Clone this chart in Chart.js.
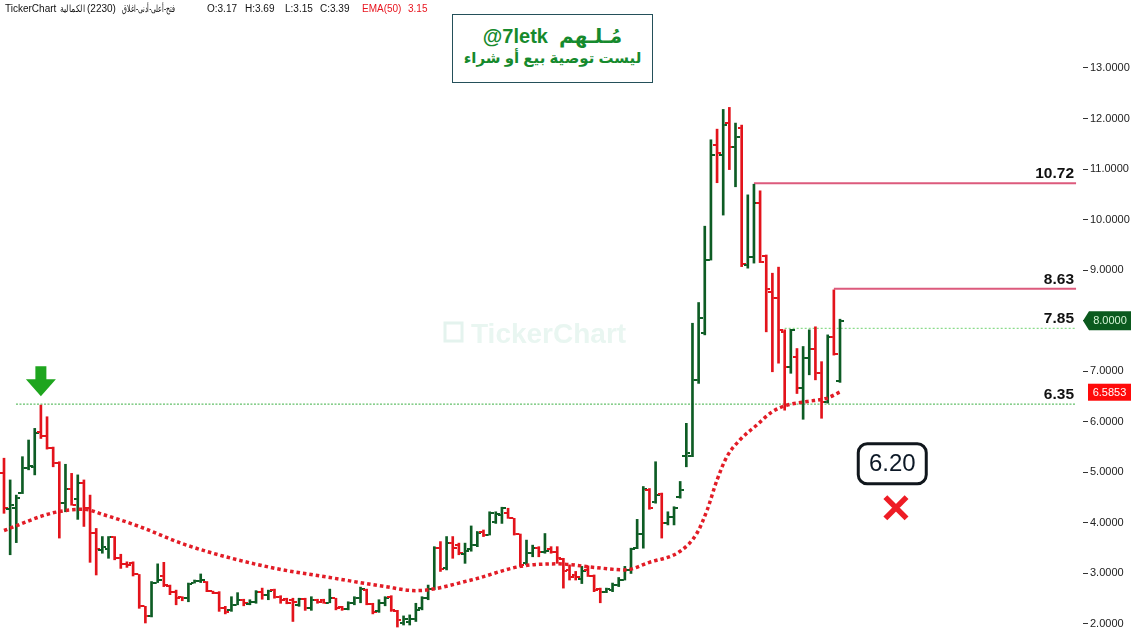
<!DOCTYPE html>
<html>
<head>
<meta charset="utf-8">
<script src="https://cdn.jsdelivr.net/npm/chart.js@4.4.1/dist/chart.umd.min.js"></script>
<style>
  html, body { margin: 0; padding: 0; background: #fff; }
  #wrap { position: relative; width: 1133px; height: 644px; overflow: hidden; }
  #box { position: absolute; left: 0; top: 0; width: 1133px; height: 644px; }
  .hdr { position: absolute; top: 3px; font: 10px "Liberation Sans", Arial, sans-serif; color: #111; white-space: nowrap; line-height: 12px; display: inline-block; transform-origin: 0 50%; }
  .red { color: #e8141e; }
  #title { position: absolute; left: 452px; top: 14px; width: 201px; height: 69px; box-sizing: border-box;
           border: 1px solid #24505a; background: #fff; color: #168a2d; font-family: "Liberation Sans", "DejaVu Sans", sans-serif; font-weight: bold; }
  #title div { position: absolute; left: 0; width: 100%; text-align: center; direction: rtl; white-space: nowrap; }
  #title bdi { unicode-bidi: isolate; direction: ltr; }
</style>
</head>
<body>
<div id="wrap">
  <div id="box"><canvas id="chart"></canvas></div>
  <span class="hdr" style="left:5px">TickerChart</span>
  <span class="hdr" style="left:60px" dir="rtl" data-w="25">الكمالية</span>
  <span class="hdr" style="left:87px">(2230)</span>
  <span class="hdr" style="left:122px" dir="rtl" data-w="53">فتح-أعلى-أدنى-اغلاق</span>
  <span class="hdr" style="left:207px">O:3.17</span>
  <span class="hdr" style="left:245px">H:3.69</span>
  <span class="hdr" style="left:285px">L:3.15</span>
  <span class="hdr" style="left:320px">C:3.39</span>
  <span class="hdr red" style="left:362px">EMA(50)</span>
  <span class="hdr red" style="left:408px">3.15</span>
  <div id="title">
    <div style="top:9px;font-size:20px;">مُـلـهم&nbsp;&nbsp;<bdi dir="ltr">@7letk</bdi></div>
    <div style="top:34px;font-size:15px;">ليست توصية بيع أو شراء</div>
  </div>
</div>
<script>
// daily bars, left to right
const opens = [
  4.98,4.28,4.30,4.60,5.08,5.11,5.80,5.72,5.49,5.18,
  4.39,4.68,4.47,4.78,4.30,3.80,3.47,3.48,3.72,3.30,
  3.19,3.20,2.98,2.35,2.15,2.82,2.94,2.75,2.64,2.53,
  2.51,2.81,2.86,2.84,2.65,2.62,2.31,2.27,2.38,2.48,
  2.40,2.43,2.64,2.58,2.67,2.54,2.49,2.48,2.38,2.49,
  2.31,2.48,2.47,2.42,2.51,2.33,2.29,2.41,2.51,2.67,
  2.40,2.25,2.41,2.53,2.25,2.02,2.03,2.09,2.31,2.51,
  2.69,3.50,3.10,3.60,3.57,3.39,3.48,3.57,3.82,3.77,
  4.02,4.16,4.20,4.09,3.78,3.20,3.40,3.50,3.42,3.48,
  3.43,3.28,3.06,2.97,2.90,3.06,2.95,2.69,2.64,2.67,
  2.77,2.88,3.07,3.50,3.79,4.66,4.42,4.57,3.99,4.12,
  4.52,5.33,5.33,6.83,7.75,9.20,11.48,11.28,11.91,11.44,
  11.81,9.10,9.27,10.32,9.28,8.56,8.44,7.78,7.09,7.29,
  6.66,7.26,7.45,6.97,6.40,7.68,6.80
];
const highs = [
  5.28,4.85,4.55,5.31,5.64,5.87,6.33,6.10,5.50,5.21,
  5.16,4.98,4.95,4.85,4.55,3.89,3.73,3.73,3.73,3.38,
  3.23,3.23,2.98,2.35,2.84,3.19,3.22,2.77,2.67,2.54,
  2.81,2.87,2.99,2.84,2.65,2.64,2.35,2.54,2.62,2.49,
  2.48,2.66,2.71,2.67,2.69,2.56,2.51,2.51,2.51,2.51,
  2.54,2.49,2.49,2.69,2.51,2.35,2.44,2.54,2.73,2.69,
  2.41,2.48,2.54,2.56,2.27,2.16,2.18,2.41,2.54,2.77,
  3.53,3.63,3.73,3.73,3.60,3.60,3.94,3.83,3.86,4.22,
  4.22,4.31,4.29,4.09,3.78,3.66,3.56,3.53,3.79,3.53,
  3.53,3.30,3.17,3.04,3.14,3.15,2.97,2.71,2.71,2.81,
  2.92,3.14,3.50,4.07,4.72,4.68,5.21,4.59,4.22,4.32,
  4.82,5.97,7.95,8.36,9.87,11.58,11.79,12.18,12.22,11.91,
  11.87,10.49,10.70,10.57,9.30,8.94,9.06,7.82,7.83,7.45,
  7.49,7.82,7.88,7.19,7.72,8.61,8.03
];
const lows = [
  4.19,3.37,3.61,4.58,5.05,4.95,5.67,5.46,5.11,3.70,
  4.22,4.35,4.07,3.93,3.22,2.97,3.40,3.30,3.27,3.10,
  3.12,2.95,2.31,2.02,2.14,2.82,2.74,2.58,2.38,2.46,
  2.44,2.81,2.82,2.64,2.60,2.25,2.20,2.25,2.38,2.36,
  2.38,2.41,2.49,2.48,2.51,2.41,2.40,2.05,2.35,2.27,
  2.27,2.41,2.41,2.42,2.28,2.27,2.28,2.38,2.42,2.38,
  2.20,2.23,2.36,2.25,1.94,1.98,1.98,2.05,2.28,2.48,
  2.68,3.04,3.07,3.30,3.37,3.20,3.44,3.53,3.73,3.76,
  3.99,3.99,4.09,3.76,3.14,3.17,3.33,3.33,3.40,3.40,
  3.20,2.71,2.87,2.87,2.80,2.94,2.64,2.42,2.62,2.64,
  2.74,2.87,3.00,3.49,3.50,4.27,4.39,3.70,3.96,3.96,
  4.49,5.11,5.31,6.76,7.72,9.20,10.73,10.09,10.99,10.65,
  9.07,9.04,9.14,9.15,7.78,6.99,7.16,6.23,6.96,6.56,
  6.05,6.93,6.83,6.07,6.37,7.32,6.78
];
const closes = [
  4.29,4.35,4.50,5.08,5.12,5.77,5.71,5.49,5.18,4.40,
  4.68,4.36,4.78,4.29,3.80,3.48,3.52,3.72,3.30,3.19,
  3.17,2.98,2.35,2.15,2.82,2.88,2.77,2.64,2.51,2.51,
  2.79,2.86,2.88,2.65,2.62,2.31,2.23,2.38,2.48,2.41,
  2.43,2.64,2.58,2.66,2.54,2.48,2.42,2.44,2.49,2.31,
  2.48,2.44,2.42,2.51,2.31,2.29,2.41,2.51,2.69,2.40,
  2.23,2.41,2.51,2.28,2.08,2.09,2.09,2.28,2.51,2.69,
  3.50,3.08,3.61,3.50,3.40,3.44,3.57,3.80,3.76,4.19,
  4.18,4.29,4.10,3.78,3.17,3.40,3.50,3.43,3.45,3.43,
  3.30,3.04,2.92,2.92,3.04,2.95,2.67,2.64,2.69,2.77,
  2.88,3.07,3.49,3.79,4.68,4.29,4.55,3.99,4.12,4.29,
  4.65,5.38,6.83,8.05,9.20,11.28,11.31,11.87,11.44,11.64,
  9.12,9.27,10.32,9.17,8.62,8.44,7.82,7.09,7.82,6.66,
  7.26,7.45,6.96,6.40,7.67,7.35,8.00
];

// EMA(50) (bar index, value)
const emaX = [0, 8, 13, 16, 22, 29, 37, 45, 53, 62, 67, 76, 84, 90, 96, 101, 105, 110, 112.7, 114.4, 116, 117.6, 119.7, 122.5, 125, 127.4, 130.6, 133.9, 136];
const emaY = [3.85, 4.20, 4.27, 4.17, 3.93, 3.59, 3.30, 3.08, 2.92, 2.74, 2.66, 2.87, 3.14, 3.19, 3.12, 3.07, 3.22, 3.44, 3.79, 4.26, 4.85, 5.31, 5.64, 5.94, 6.20, 6.33, 6.40, 6.47, 6.59];
const emaLast = '6.5853';
const lastClose = '8.0000';

// horizontal levels: value, label, first bar
const levelValues = [10.72, 8.63, 7.85, 6.35];
const levelLabels = ['10.72', '8.63', '7.85', '6.35'];
const levelStart = [122, 135, 127, 1.95];
const levelEnd = 174.4;

const yTicks = [2, 3, 4, 5, 6, 7, 8, 9, 10, 11, 12, 13];

const GREEN = '#0d5c24';
const RED = '#e3131b';

// squeeze the arabic header words into their slots
document.querySelectorAll('[data-w]').forEach(el => {
  const w = el.getBoundingClientRect().width;
  el.style.transform = 'scaleX(' + (Number(el.dataset.w) / w).toFixed(3) + ')';
});

const isUp = closes.map((c, i) => c >= opens[i]);
const barColor = isUp.map(u => u ? GREEN : RED);

function tickImg(color, side) {
  const c = document.createElement('canvas');
  c.width = 8; c.height = 2;
  const g = c.getContext('2d');
  g.fillStyle = color;
  if (side === 'L') g.fillRect(0, 0, 3, 2); else g.fillRect(5, 0, 3, 2);
  return c;
}
const imgs = {
  gL: tickImg(GREEN, 'L'), gR: tickImg(GREEN, 'R'),
  rL: tickImg(RED, 'L'), rR: tickImg(RED, 'R')
};

function levelData(i) {
  return [{ x: levelStart[i], y: levelValues[i] }, { x: levelEnd, y: levelValues[i] }];
}

const annot = {
  id: 'annot',
  beforeDatasetsDraw(chart) {
    const g = chart.ctx;
    g.save();
    g.fillStyle = '#e9f6f1';
    g.strokeStyle = '#e4f3ee';
    g.lineWidth = 3;
    g.strokeRect(445, 323, 17, 18);
    g.font = 'bold 28px "Liberation Sans", Arial, sans-serif';
    g.textBaseline = 'alphabetic';
    g.fillText('TickerChart', 471, 343);
    g.restore();
  },
  afterDatasetsDraw(chart) {
    const g = chart.ctx;
    const xs = chart.scales.x, ys = chart.scales.y;
    g.save();
    // level labels
    g.fillStyle = '#111';
    g.font = 'bold 15.5px "Liberation Sans", Arial, sans-serif';
    g.textAlign = 'right';
    g.textBaseline = 'alphabetic';
    levelValues.forEach((v, i) => {
      g.fillText(levelLabels[i], 1074, ys.getPixelForValue(v) - 5);
    });
    // green arrow above the left peak
    const ax = xs.getPixelForValue(6);
    const tip = ys.getPixelForValue(highs[6]) - 9;
    g.fillStyle = '#1ea51e';
    g.beginPath();
    g.moveTo(ax - 5.5, tip - 30);
    g.lineTo(ax + 5.5, tip - 30);
    g.lineTo(ax + 5.5, tip - 17);
    g.lineTo(ax + 15, tip - 17);
    g.lineTo(ax, tip);
    g.lineTo(ax - 15, tip - 17);
    g.lineTo(ax - 5.5, tip - 17);
    g.closePath();
    g.fill();
    // 6.20 box
    const bx = xs.getPixelForValue(144.5), by = ys.getPixelForValue(5.17);
    g.lineWidth = 3;
    g.strokeStyle = '#10161c';
    g.fillStyle = '#fff';
    g.beginPath();
    g.roundRect(bx - 34, by - 20, 68, 40, 9);
    g.fill();
    g.stroke();
    g.fillStyle = '#0c1826';
    g.font = '24px "Liberation Sans", Arial, sans-serif';
    g.textAlign = 'center';
    g.textBaseline = 'middle';
    g.fillText('6.20', bx, by + 1);
    g.restore();
  },
  afterDraw(chart) {
    const g = chart.ctx;
    const ys = chart.scales.y;
    g.save();
    g.font = '11px "Liberation Sans", Arial, sans-serif';
    g.textAlign = 'center';
    g.textBaseline = 'middle';
    // last close tag
    let y = ys.getPixelForValue(parseFloat(lastClose));
    g.fillStyle = '#0b5a1e';
    g.beginPath();
    g.moveTo(1083, y);
    g.lineTo(1089, y - 9.5);
    g.lineTo(1131, y - 9.5);
    g.lineTo(1131, y + 9.5);
    g.lineTo(1089, y + 9.5);
    g.closePath();
    g.fill();
    g.fillStyle = '#d8f6d8';
    g.fillText(lastClose, 1110, y + 0.5);
    // EMA tag
    y = ys.getPixelForValue(parseFloat(emaLast));
    g.fillStyle = '#ff0a0a';
    g.fillRect(1088, y - 8.5, 43, 17);
    g.fillStyle = '#fff';
    g.fillText(emaLast, 1109.5, y + 0.5);
    g.restore();
  }
};

new Chart(document.getElementById('chart'), {
  type: 'bar',
  data: {
    datasets: [
      {
        type: 'line', data: emaX.map((x, i) => ({ x, y: emaY[i] })),
        borderColor: '#e21c26', borderWidth: 3.5, borderDash: [3.5, 3],
        pointRadius: 0, cubicInterpolationMode: 'monotone', order: 0
      },
      {
        type: 'line', data: levelData(0), borderColor: '#dc5a7c', borderWidth: 2, pointRadius: 0, order: 3
      },
      {
        type: 'line', data: levelData(1), borderColor: '#dc5a7c', borderWidth: 2, pointRadius: 0, order: 3
      },
      {
        type: 'line', data: levelData(2), borderColor: '#6fd46f', borderWidth: 1, borderDash: [2, 2], pointRadius: 0, order: 3
      },
      {
        type: 'line', data: levelData(3), borderColor: '#3cb043', borderWidth: 1, borderDash: [2, 1.5], pointRadius: 0, order: 3
      },
      {
        type: 'bar', data: highs.map((h, i) => ({ x: i, y: [lows[i], h] })),
        backgroundColor: barColor, borderWidth: 0, barThickness: 2, grouped: false, order: 2
      },
      {
        type: 'scatter', data: opens.map((o, i) => ({ x: i, y: o })),
        pointStyle: isUp.map(u => u ? imgs.gL : imgs.rL), pointRadius: 3, order: 1
      },
      {
        type: 'scatter', data: closes.map((c, i) => ({ x: i, y: c })),
        pointStyle: isUp.map(u => u ? imgs.gR : imgs.rR), pointRadius: 3, order: 1
      },
      {
        type: 'scatter', data: [{ x: 145.1, y: 4.30 }],
        pointStyle: 'crossRot', pointRadius: 15, borderColor: '#ee1c25', borderWidth: 5.5, order: 0
      }
    ]
  },
  options: {
    responsive: true,
    maintainAspectRatio: false,
    animation: false,
    events: [],
    layout: { padding: 0, autoPadding: false },
    plugins: { legend: { display: false }, tooltip: { enabled: false } },
    scales: {
      x: { type: 'linear', offset: false, min: -0.6507, max: 175.53, display: false },
      y: {
        position: 'right',
        offset: false,
        min: 1.6043, max: 14.345,
        afterFit(s) { s.width = 50; s.paddingTop = 0; s.paddingBottom = 0; },
        afterBuildTicks(s) { s.ticks = yTicks.map(v => ({ value: v })); },
        border: { display: false },
        grid: { drawOnChartArea: false, drawTicks: true, tickLength: 5, tickColor: '#333', lineWidth: 1 },
        ticks: {
          padding: 2, color: '#222',
          font: { family: '"Liberation Sans", Arial, sans-serif', size: 11 },
          callback: v => Number(v).toFixed(4)
        }
      }
    }
  },
  plugins: [annot]
});
</script>
</body>
</html>
